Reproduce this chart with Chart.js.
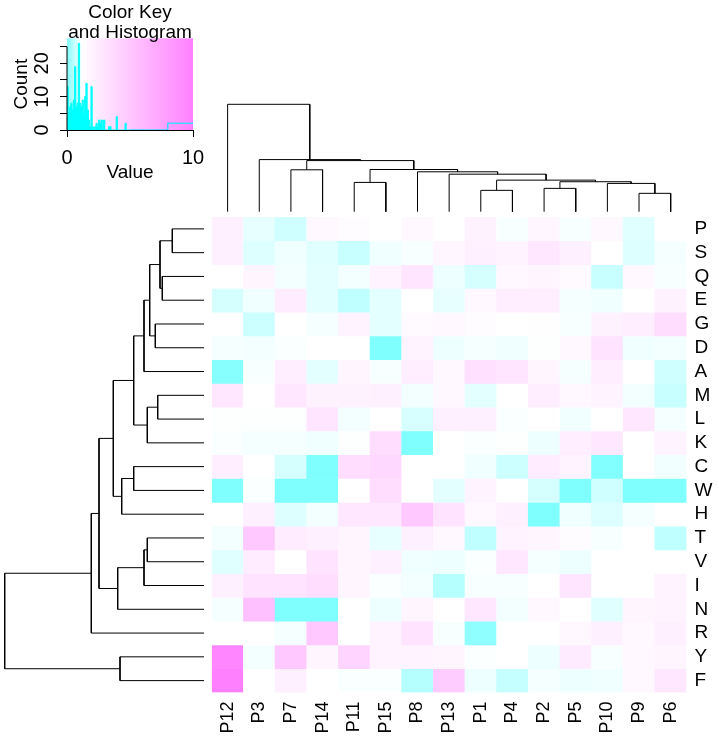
<!DOCTYPE html>
<html>
<head>
<meta charset="utf-8">
<script src="https://cdn.jsdelivr.net/npm/chart.js@4.4.1/dist/chart.umd.min.js"></script>
<style>
  html, body { margin: 0; background: #fff; }
  #wrap { position: relative; width: 719px; height: 736px; }
  #wrap canvas { position: absolute; left: 0; top: 0; }
</style>
</head>
<body>
<div id="wrap">
  <canvas id="keyChart" width="719" height="736"></canvas>
  <canvas id="colDendro" width="719" height="736"></canvas>
  <canvas id="rowDendro" width="719" height="736"></canvas>
  <canvas id="heatChart" width="719" height="736"></canvas>
</div>
<script>
// --- data ---
const colLabels = ["P12", "P3", "P7", "P14", "P11", "P15", "P8", "P13", "P1", "P4", "P2", "P5", "P10", "P9", "P6"];
const rowLabels = ["P", "S", "Q", "E", "G", "D", "A", "M", "L", "K", "C", "W", "H", "T", "V", "I", "N", "R", "Y", "F"];

// one row per amino acid, columns in colLabels order
const heatValues = [
  [2.15, 0.90, 0.69, 1.59, 1.30, 1.10, 1.50, 1.10, 2.00, 1.04, 1.73, 1.03, 1.59, 0.83, 1.10],
  [2.15, 0.81, 0.97, 0.83, 0.62, 0.97, 1.04, 1.73, 2.15, 1.94, 2.71, 2.15, 1.10, 0.81, 1.01],
  [1.10, 1.80, 1.00, 0.87, 1.00, 1.94, 2.92, 0.95, 0.74, 1.59, 1.80, 1.45, 0.62, 1.59, 1.04],
  [0.74, 0.97, 2.43, 0.87, 0.55, 0.87, 1.10, 0.90, 1.59, 2.29, 2.29, 1.01, 0.97, 1.12, 2.01],
  [1.10, 0.66, 1.10, 1.01, 1.94, 0.86, 1.45, 1.59, 1.30, 1.10, 1.15, 1.04, 2.01, 2.29, 3.48],
  [1.01, 1.00, 1.06, 1.10, 1.10, 0.00, 1.94, 0.95, 1.01, 0.97, 1.08, 1.59, 3.06, 0.97, 1.00],
  [0.07, 1.04, 2.29, 0.86, 1.80, 1.04, 2.29, 1.59, 3.27, 2.92, 1.80, 1.01, 2.29, 1.10, 0.69],
  [2.71, 1.10, 2.71, 2.01, 2.01, 2.15, 1.00, 1.59, 0.87, 1.10, 2.29, 1.59, 1.94, 1.00, 0.62],
  [1.08, 1.08, 1.08, 2.92, 1.00, 1.10, 0.76, 2.15, 2.15, 1.06, 1.10, 0.99, 1.10, 2.71, 1.01],
  [1.06, 1.01, 1.01, 0.97, 1.08, 3.48, 0.00, 1.10, 1.06, 1.08, 0.95, 2.29, 2.71, 1.10, 1.94],
  [2.29, 1.10, 0.74, 0.00, 3.48, 3.83, 1.10, 1.10, 0.97, 0.66, 2.43, 1.94, 0.02, 1.10, 0.99],
  [0.00, 1.06, 0.00, 0.00, 1.10, 3.48, 1.10, 0.87, 1.94, 1.10, 0.74, 0.00, 0.69, 0.00, 0.00],
  [1.10, 2.15, 0.81, 1.00, 2.71, 2.71, 4.95, 3.06, 1.59, 2.15, 0.00, 0.97, 0.81, 1.01, 1.10],
  [1.00, 4.95, 2.43, 2.15, 1.80, 0.90, 2.15, 1.59, 0.55, 1.94, 1.80, 1.30, 1.04, 1.10, 0.55],
  [0.83, 2.36, 1.10, 3.06, 1.80, 2.15, 0.97, 0.95, 1.06, 2.71, 1.01, 0.95, 1.10, 1.10, 1.12],
  [2.15, 3.06, 3.06, 3.48, 1.80, 1.06, 1.00, 0.46, 1.04, 1.04, 1.10, 2.92, 1.10, 1.12, 1.94],
  [1.01, 5.52, 0.00, 0.00, 1.10, 0.94, 1.80, 1.10, 2.71, 1.00, 1.59, 1.12, 0.83, 1.80, 1.94],
  [1.10, 1.10, 1.01, 4.95, 1.10, 1.94, 3.06, 1.04, 0.14, 1.10, 1.12, 1.59, 2.15, 1.59, 2.15],
  [9.60, 1.00, 4.95, 1.80, 4.04, 1.94, 1.94, 1.80, 1.07, 1.10, 0.95, 2.50, 1.04, 1.59, 1.80],
  [10.0, 1.10, 2.15, 1.10, 1.06, 1.06, 0.46, 4.67, 0.95, 0.60, 1.01, 0.95, 0.97, 1.59, 2.71]
];

// dendrograms: [height, left, right]
const colTree = [10.82, "P12", [5.25, "P3", [5.15, [4.22, "P7", "P14"],
  [4.25, [2.95, "P11", "P15"], [4.02, "P8", [3.78, "P13", [3.18, [2.15, "P1", "P4"],
    [3.02, [2.35, "P2", "P5"], [2.85, "P10", [1.85, "P9", "P6"]]]]]]]]]];

const rowTree = [19.93,
  [11.27,
    [10.5,
      [9.07,
        [7.03,
          [6.0, [5.43, [4.4, [3.17, "P", "S"], [4.17, "Q", "E"]], [4.87, "G", "D"]], "A"],
          [5.67, [4.63, "M", "L"], "K"]],
        [8.23, [7.03, "C", "W"], "H"]],
      [8.63, [6.0, [5.67, "T", "V"], "I"], "N"]],
    "R"],
  [8.4, "Y", "F"]];

// colour key + histogram
const keyRange = [0, 10];
const keyWhite = 1.1;
const keyXTicks = [0, 10];
const keyYTicks = [0, 5, 10, 15, 20, 25];
const keyYLabels = [0, 10, 20];
const histBinWidth = 0.1;
const histCounts = [13, 4, 7, 8, 6, 9, 19, 7, 8, 26, 8, 7, 9, 5, 10, 14, 6, 3, 1, 13,
  1, 0, 1, 2, 1, 3, 2, 3, 0, 3, 0, 0, 0, 1, 1, 0, 0, 0, 0, 4,
  0, 0, 0, 0, 0, 0, 2, 0, 0, 0];
const histTailEdges = [5, 8, 10];
const histTailCounts = [0, 2];

const FONT = '"Liberation Sans", Arial, Helvetica, sans-serif';
Chart.defaults.font.family = FONT;
Chart.defaults.color = "#000";

// cyan -> white -> magenta
function cellColor(v) {
  let r = 255, g = 255;
  if (v < keyWhite) r = 255 - 127 * (keyWhite - Math.max(v, keyRange[0])) / (keyWhite - keyRange[0]);
  else g = 255 - 127 * (Math.min(v, keyRange[1]) - keyWhite) / (keyRange[1] - keyWhite);
  return `rgb(${Math.round(r)},${Math.round(g)},255)`;
}

// dendrogram links as U shapes
function dendroLinks(tree, leaves) {
  const links = [];
  const walk = n => {
    if (typeof n === "string") return { p: leaves.indexOf(n), h: 0 };
    const [h, a, b] = n;
    const L = walk(a), R = walk(b);
    links.push([{ p: L.p, h: L.h }, { p: L.p, h }, { p: R.p, h }, { p: R.p, h: R.h }]);
    return { p: (L.p + R.p) / 2, h };
  };
  walk(tree);
  return links;
}

const noPlugins = { legend: { display: false }, tooltip: { enabled: false } };

/* 1) heatmap */
new Chart(document.getElementById("heatChart"), {
  type: "bar",
  data: {
    labels: colLabels,
    datasets: rowLabels.map((row, r) => ({
      label: row,
      data: colLabels.map(() => [r, r + 1]),
      backgroundColor: heatValues[r].map(cellColor),
      borderWidth: 0,
      barPercentage: 1,
      categoryPercentage: 1,
      grouped: false
    }))
  },
  options: {
    responsive: false,
    animation: false,
    layout: { padding: { left: 211.8, top: 217, right: 0, bottom: 0 } },
    plugins: noPlugins,
    scales: {
      x: {
        grid: { display: false, drawTicks: false },
        border: { display: false },
        ticks: { autoSkip: false, minRotation: 90, maxRotation: 90, padding: 9, font: { size: 18 } },
        afterFit: s => { s.height = 43.5; }
      },
      y: {
        type: "linear",
        position: "right",
        reverse: true,
        min: 0,
        max: rowLabels.length,
        grid: { display: false, drawTicks: false },
        border: { display: false },
        afterBuildTicks: s => { s.ticks = rowLabels.map((_, i) => ({ value: i + 0.5 })); },
        ticks: { autoSkip: false, padding: 8, font: { size: 19 }, callback: v => rowLabels[Math.floor(v)] },
        afterFit: s => { s.width = 32.5; }
      }
    }
  }
});

/* 2) dendrograms */
const lineStyle = { showLine: true, pointRadius: 0, borderColor: "#000", borderWidth: 1, clip: false };

new Chart(document.getElementById("colDendro"), {
  type: "scatter",
  data: {
    datasets: dendroLinks(colTree, colLabels).map(link => ({
      ...lineStyle, data: link.map(q => ({ x: q.p, y: q.h }))
    }))
  },
  options: {
    responsive: false,
    animation: false,
    layout: { padding: { left: 211.8, right: 32.5, top: 104.3, bottom: 524.3 } },
    plugins: noPlugins,
    scales: {
      x: { type: "linear", display: false, min: -0.5, max: colLabels.length - 0.5 },
      y: { type: "linear", display: false, min: 0, max: colTree[0] }
    }
  }
});

new Chart(document.getElementById("rowDendro"), {
  type: "scatter",
  data: {
    datasets: dendroLinks(rowTree, rowLabels).map(link => ({
      ...lineStyle, data: link.map(q => ({ x: q.h, y: q.p }))
    }))
  },
  options: {
    responsive: false,
    animation: false,
    layout: { padding: { left: 4.7, right: 515, top: 217, bottom: 43.5 } },
    plugins: noPlugins,
    scales: {
      x: { type: "linear", display: false, reverse: true, min: 0, max: rowTree[0] },
      y: { type: "linear", display: false, reverse: true, min: -0.5, max: rowLabels.length - 0.5 }
    }
  }
});

/* 3) colour key with histogram */
const histFine = [{ x: 0, y: 0 }];
histCounts.forEach((c, i) => histFine.push({ x: i * histBinWidth, y: c }));
histFine.push({ x: histCounts.length * histBinWidth, y: histCounts[histCounts.length - 1] });
const histTail = histTailEdges.map((e, i) => ({ x: e, y: histTailCounts[Math.min(i, histTailCounts.length - 1)] }));

const keyPlugin = {
  id: "keyPlugin",
  beforeDatasetsDraw(chart) {
    const { ctx, chartArea: a, scales: { x } } = chart;
    ctx.save();
    for (let px = Math.floor(a.left); px < a.right; px++) {
      ctx.fillStyle = cellColor(x.getValueForPixel(px + 0.5));
      ctx.fillRect(px, a.top, 1, a.bottom - a.top);
    }
    ctx.restore();
  },
  afterDraw(chart) {
    const { ctx, chartArea: a, scales: { x, y } } = chart;
    ctx.save();
    ctx.strokeStyle = "#000";
    ctx.lineWidth = 1;
    ctx.beginPath();
    ctx.moveTo(a.left, y.getPixelForValue(keyYTicks[0]));
    ctx.lineTo(a.left, y.getPixelForValue(keyYTicks[keyYTicks.length - 1]));
    ctx.stroke();
    ctx.fillStyle = "#000";
    ctx.textAlign = "center";
    ctx.textBaseline = "middle";
    ctx.font = `20px ${FONT}`;
    keyYLabels.forEach(v => {
      ctx.save();
      ctx.translate(a.left - 25, y.getPixelForValue(v));
      ctx.rotate(-Math.PI / 2);
      ctx.fillText(String(v), 0, 0);
      ctx.restore();
    });
    ctx.font = `19px ${FONT}`;
    const cx = (x.left + x.right) / 2;
    ctx.fillText("Color Key", cx, a.top - 26);
    ctx.fillText("and Histogram", cx, a.top - 6);
    ctx.restore();
  }
};

new Chart(document.getElementById("keyChart"), {
  type: "line",
  data: {
    datasets: [
      { data: histFine, stepped: "before", fill: "origin", backgroundColor: "#00ffff",
        borderColor: "#00ffff", borderWidth: 1, pointRadius: 0 },
      { data: histTail, stepped: "before", fill: false, borderColor: "#40d8ff",
        borderWidth: 1.5, pointRadius: 0 }
    ]
  },
  options: {
    responsive: false,
    animation: false,
    layout: { padding: { left: 0, right: 526, top: 38.3, bottom: 550 } },
    plugins: noPlugins,
    scales: {
      x: {
        type: "linear",
        min: keyRange[0],
        max: keyRange[1],
        afterBuildTicks: s => { s.ticks = keyXTicks.map(v => ({ value: v })); },
        grid: { drawOnChartArea: false, tickLength: 7, color: "#000" },
        border: { color: "#000" },
        ticks: { padding: 9, font: { size: 20 } },
        title: { display: true, text: "Value", font: { size: 19 }, padding: { top: 0, bottom: 1.6 } },
        afterFit: s => { s.height = 56; }
      },
      y: {
        type: "linear",
        min: 0,
        max: 27.5,
        afterBuildTicks: s => { s.ticks = keyYTicks.map(v => ({ value: v })); },
        grid: { drawOnChartArea: false, tickLength: 7, color: "#000" },
        border: { display: false },
        ticks: { display: false },
        title: { display: true, text: "Count", font: { size: 19 }, padding: { top: 10.6, bottom: 0 } },
        afterFit: s => { s.width = 67; }
      }
    }
  },
  plugins: [keyPlugin]
});
</script>
</body>
</html>
